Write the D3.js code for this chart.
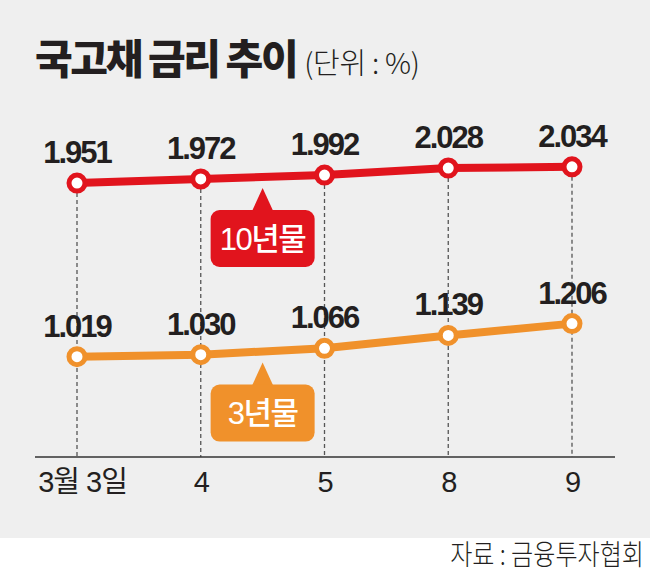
<!DOCTYPE html>
<html>
<head>
<meta charset="utf-8">
<script src="https://cdn.jsdelivr.net/npm/d3@7"></script>
<style>
  html, body { margin: 0; padding: 0; background: #fff; }
  svg { display: block; }
</style>
</head>
<body>
<svg id="chart" width="650" height="576"></svg>
<script>
// data
const dates = ["3월 3일", "4", "5", "8", "9"];
const tenYear = [1.951, 1.972, 1.992, 2.028, 2.034];
const threeYear = [1.019, 1.030, 1.066, 1.139, 1.206];
const seriesNames = ["10년물", "3년물"];

const RED = "#e1141d";
const ORANGE = "#f0912b";
const INK = "#231f20";
const NUM_FONT = "'Liberation Sans', 'Noto Sans CJK KR', sans-serif";
const KR_FONT = "'Noto Sans CJK KR', sans-serif";

const svg = d3.select("#chart");

svg.append("rect")
  .attr("width", 650).attr("height", 538)
  .attr("fill", "#efefef");

// title
const title = svg.append("text")
  .attr("x", 35).attr("y", 74)
  .attr("fill", INK)
  .attr("font-family", KR_FONT);
title.append("tspan")
  .attr("font-size", 41).attr("font-weight", 900)
  .attr("letter-spacing", -2.4)
  .text("국고채 금리 추이");
title.append("tspan")
  .attr("font-size", 29).attr("font-weight", 300)
  .attr("dx", 8)
  .attr("letter-spacing", -0.3)
  .text("(단위 : %)");

// scales — the chart breaks the axis, so each series gets its own band
const x = d3.scalePoint().domain(dates).range([77, 572]);
const yTen = d3.scaleLinear().domain([1.9, 2.1]).range([193, 154]);
const yThree = d3.scaleLinear().domain([1.0, 1.3]).range([360, 307]);
const axisY = 457;

// dashed guides
svg.append("g")
  .selectAll("line")
  .data(dates)
  .join("line")
  .attr("x1", d => x(d)).attr("x2", d => x(d))
  .attr("y1", (d, i) => yTen(tenYear[i]) + 10)
  .attr("y2", axisY)
  .attr("stroke", "#555")
  .attr("stroke-width", 1.3)
  .attr("stroke-dasharray", "4,3");

// x axis
const xAxis = svg.append("g")
  .attr("transform", `translate(0,${axisY})`)
  .call(d3.axisBottom(x).tickSize(0).tickPadding(14));
xAxis.select(".domain").remove();
xAxis.append("line")
  .attr("x1", 35).attr("x2", 615)
  .attr("stroke", "#333").attr("stroke-width", 1.5);
xAxis.selectAll(".tick text")
  .attr("fill", INK)
  .attr("font-family", NUM_FONT)
  .attr("font-size", 29)
  .attr("letter-spacing", -1)
  .attr("dy", "0.71em")
  .attr("dx", (d, i) => i === 0 ? 5 : 0);

function drawSeries(values, y, color, name) {
  const g = svg.append("g");
  const pts = dates.map((d, i) => [x(d), y(values[i])]);

  g.append("path")
    .attr("d", d3.line()(pts))
    .attr("fill", "none")
    .attr("stroke", color)
    .attr("stroke-width", 8)
    .attr("stroke-linejoin", "round");

  g.selectAll("circle")
    .data(pts)
    .join("circle")
    .attr("cx", d => d[0]).attr("cy", d => d[1])
    .attr("r", 8)
    .attr("fill", "#fff")
    .attr("stroke", color)
    .attr("stroke-width", 5);

  g.selectAll("text.val")
    .data(values)
    .join("text")
    .attr("class", "val")
    .attr("x", (d, i) => x(dates[i]))
    .attr("y", d => y(d) - 20)
    .attr("text-anchor", "middle")
    .attr("fill", INK)
    .attr("font-family", NUM_FONT)
    .attr("font-weight", "bold")
    .attr("font-size", 31)
    .attr("letter-spacing", -2)
    .text(d => d3.format(".3f")(d));

  // callout under the segment between 4 and 5
  const cx = (x(dates[1]) + x(dates[2])) / 2;
  const lineY = (y(values[1]) + y(values[2])) / 2;
  const tip = lineY + 11, top = lineY + 33, w = 104, h = 57;
  g.append("path")
    .attr("d", `M${cx - 11},${top + 2} L${cx},${tip} L${cx + 11},${top + 2} Z`)
    .attr("fill", color);
  g.append("rect")
    .attr("x", cx - w / 2).attr("y", top)
    .attr("width", w).attr("height", h)
    .attr("rx", 9)
    .attr("fill", color);
  g.append("text")
    .attr("x", cx).attr("y", top + h / 2 + 11)
    .attr("text-anchor", "middle")
    .attr("fill", "#fff")
    .attr("font-family", NUM_FONT)
    .attr("font-size", 31)
    .attr("font-weight", 500)
    .attr("letter-spacing", -1.5)
    .text(name);
}

drawSeries(tenYear, yTen, RED, seriesNames[0]);
drawSeries(threeYear, yThree, ORANGE, seriesNames[1]);

// source, squeezed horizontally like the original's condensed face
svg.append("text")
  .attr("transform", "translate(644,565) scale(0.86,1)")
  .attr("text-anchor", "end")
  .attr("fill", INK)
  .attr("font-family", KR_FONT)
  .attr("font-size", 28)
  .attr("font-weight", 300)
  .text("자료 : 금융투자협회");
</script>
</body>
</html>
